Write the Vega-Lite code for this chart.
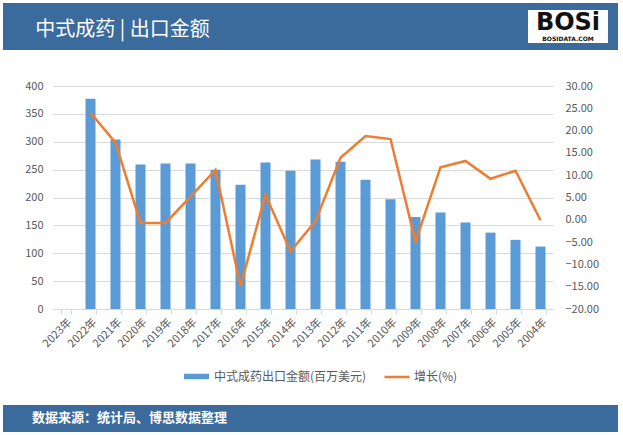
{
  "$schema": "https://vega.github.io/schema/vega-lite/v6.json",
  "padding": {"left": 3, "top": 3, "right": 5, "bottom": 3},
  "background": "white",
  "spacing": 30,
  "config": {
    "font": "Noto Sans CJK SC",
    "view": {"stroke": null},
    "axis": {"labelColor": "#595959", "labelFontSize": 11, "labelFont": "Noto Sans CJK SC"},
    "legend": {"labelColor": "#595959", "labelFontSize": 12, "labelFont": "Noto Sans CJK SC"}
  },
  "vconcat": [
    {
      "spacing": 0,
      "hconcat": [
        {
          "width": 239,
          "height": 47,
          "view": {"fill": "#3b6a9c", "stroke": null},
          "data": {"values": [{"title": "中式成药 | 出口金额"}]},
          "mark": {"type": "text", "fontSize": 20, "color": "#ffffff", "dy": 3, "font": "Noto Sans CJK SC"},
          "encoding": {"text": {"field": "title"}}
        },
        {
          "width": 276,
          "height": 47,
          "view": {"fill": "#3b6a9c", "stroke": null},
          "data": {"values": []},
          "mark": "point"
        },
        {
          "width": 100,
          "height": 47,
          "view": {"fill": "#3b6a9c", "stroke": null},
          "data": {"values": [{"logo": "BOSi", "site": "BOSIDATA.COM"}]},
          "layer": [
            {"mark": {"type": "point", "shape": "M-1,-0.41H1V0.41H-1Z", "size": 6400, "filled": true, "color": "#ffffff", "opacity": 1}},
            {"mark": {"type": "text", "fontSize": 24, "fontWeight": "bold", "font": "DejaVu Sans", "color": "#111111", "dy": -4}, "encoding": {"text": {"field": "logo"}}},
            {"mark": {"type": "text", "fontSize": 6, "fontWeight": "bold", "font": "DejaVu Sans", "color": "#111111", "dy": 12}, "encoding": {"text": {"field": "site"}}}
          ]
        }
      ]
    },
    {
      "width": 615,
      "height": 223,
      "data": {
        "values": [
          {"year": "2023年", "value": null, "growth": null},
          {"year": "2022年", "value": 377, "growth": 24.0},
          {"year": "2021年", "value": 304, "growth": 17.3},
          {"year": "2020年", "value": 259, "growth": -0.7},
          {"year": "2019年", "value": 261, "growth": -0.7},
          {"year": "2018年", "value": 261, "growth": 5.2},
          {"year": "2017年", "value": 250, "growth": 11.2},
          {"year": "2016年", "value": 223, "growth": -14.9},
          {"year": "2015年", "value": 263, "growth": 5.6},
          {"year": "2014年", "value": 248, "growth": -7.1},
          {"year": "2013年", "value": 268, "growth": -0.3},
          {"year": "2012年", "value": 264, "growth": 13.9},
          {"year": "2011年", "value": 232, "growth": 18.8},
          {"year": "2010年", "value": 197, "growth": 18.1},
          {"year": "2009年", "value": 165, "growth": -4.9},
          {"year": "2008年", "value": 173, "growth": 11.8},
          {"year": "2007年", "value": 155, "growth": 13.2},
          {"year": "2006年", "value": 137, "growth": 9.2},
          {"year": "2005年", "value": 124, "growth": 11.0},
          {"year": "2004年", "value": 112, "growth": -0.1}
        ]
      },
      "encoding": {
        "x": {
          "field": "year",
          "type": "nominal",
          "sort": null,
          "scale": {
            "domain": ["2023年", "2022年", "2021年", "2020年", "2019年", "2018年", "2017年", "2016年", "2015年", "2014年", "2013年", "2012年", "2011年", "2010年", "2009年", "2008年", "2007年", "2006年", "2005年", "2004年"],
            "range": [50, 550],
            "paddingInner": 0.6,
            "paddingOuter": 0.3
          },
          "axis": {
            "title": null,
            "labelAngle": -45,
            "tickBand": "extent",
            "ticks": true,
            "tickSize": 5,
            "tickColor": "#d9d9d9",
            "domainColor": "#d9d9d9",
            "labelPadding": 2,
            "grid": false,
            "minExtent": 66
          }
        }
      },
      "layer": [
        {
          "mark": {"type": "bar"},
          "encoding": {
            "y": {
              "field": "value",
              "type": "quantitative",
              "scale": {"domain": [0, 400], "nice": false},
              "axis": {
                "title": null,
                "offset": -50,
                "values": [0, 50, 100, 150, 200, 250, 300, 350, 400],
                "grid": true,
                "gridColor": "#d9d9d9",
                "domain": false,
                "ticks": false,
                "labelPadding": 10
              }
            },
            "fill": {
              "datum": "中式成药出口金额(百万美元)",
              "scale": {"range": ["#5b9bd5"]},
              "legend": {
                "orient": "none",
                "legendX": 180,
                "legendY": 360,
                "title": null,
                "symbolType": "M-1,-0.22H1V0.22H-1Z",
                "symbolSize": 625,
                "labelOffset": 4,
                "padding": 0
              }
            }
          }
        },
        {
          "mark": {"type": "line", "strokeWidth": 2.5},
          "encoding": {
            "y": {
              "field": "growth",
              "type": "quantitative",
              "scale": {"domain": [-20, 30], "nice": false},
              "axis": {
                "orient": "right",
                "offset": -65,
                "title": null,
                "values": [-20, -15, -10, -5, 0, 5, 10, 15, 20, 25, 30],
                "format": ".2f",
                "grid": false,
                "domain": false,
                "ticks": false,
                "labelPadding": 12
              }
            },
            "stroke": {
              "datum": "增长(%)",
              "scale": {"range": ["#ed7d31"]},
              "legend": {
                "orient": "none",
                "legendX": 380,
                "legendY": 360,
                "title": null,
                "symbolType": "stroke",
                "symbolSize": 625,
                "symbolStrokeWidth": 2.5,
                "labelOffset": 3,
                "padding": 0
              }
            }
          }
        }
      ],
      "resolve": {"scale": {"y": "independent"}}
    },
    {
      "spacing": 0,
      "hconcat": [
        {
          "width": 253,
          "height": 27,
          "view": {"fill": "#3b6a9c", "stroke": null},
          "data": {"values": [{"source": "数据来源：统计局、博思数据整理"}]},
          "mark": {"type": "text", "fontSize": 13, "fontWeight": "bold", "color": "#ffffff", "dy": -1, "font": "Noto Sans CJK SC"},
          "encoding": {"text": {"field": "source"}}
        },
        {
          "width": 362,
          "height": 27,
          "view": {"fill": "#3b6a9c", "stroke": null},
          "data": {"values": []},
          "mark": "point"
        }
      ]
    }
  ]
}
